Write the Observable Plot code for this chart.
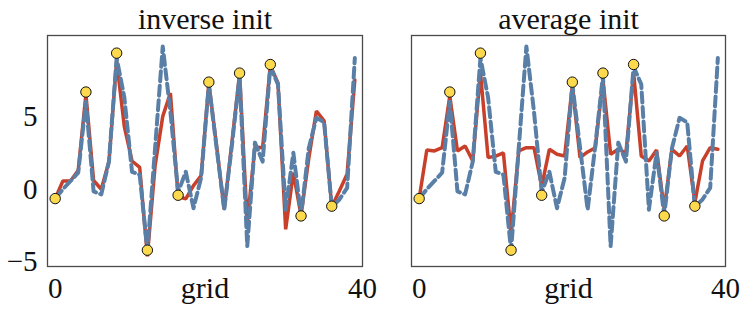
<!DOCTYPE html>
<html>
<head>
<meta charset="utf-8">
<script src="https://cdn.jsdelivr.net/npm/d3@7"></script>
<script src="https://cdn.jsdelivr.net/npm/@observablehq/plot@0.6"></script>
<style>
  html, body { margin: 0; padding: 0; background: #fff; }
  #wrap { position: relative; width: 747px; height: 313px; overflow: hidden; }
  #wrap > div, #wrap > svg { position: absolute; top: 0; }
</style>
</head>
<body>
<div id="wrap"></div>
<script>
// grid positions 0..39
const grid = d3.range(40);
// dashed blue series (same in both panels)
const blueSeries = [-0.64, 0.0, 0.57, 1.14, 6.0, -0.15, -0.35, 1.9, 9.0, 6.3,
  1.2, 1.0, -4.2, 2.8, 9.8, 5.3, -0.2, 1.2, -1.3, 0.8,
  7.2, 2.9, -1.4, 3.0, 7.8, -3.9, 3.2, 1.9, 8.4, 7.2,
  -1.4, 2.5, -1.8, 2.8, 4.9, 4.6, -1.2, -0.7, 0.1, 9.0];
// red solid series, "inverse init"
const redInverse = [-0.64, 0.57, 0.57, 1.3, 6.5, 0.6, 0.0, 1.9, 8.8, 4.3,
  1.94, 1.5, -4.6, 1.6, 5.0, 6.6, -0.5, -0.66, 0.25, 0.94,
  7.3, 3.0, -1.37, 3.2, 7.9, -2.3, 2.9, 2.85, 8.5, 7.3,
  -2.75, 1.14, -1.8, 2.1, 5.37, 4.7, -1.2, -0.1, 1.05, 7.5];
// red solid series, "average init"
const redAverage = [-0.64, 2.69, 2.63, 2.85, 6.4, 2.63, 2.97, 1.94, 8.0, 2.17,
  2.28, 2.5, -3.0, 2.63, 2.85, 2.85, 0.2, 2.74, 2.4, 2.28,
  7.1, 2.17, 2.56, 2.85, 7.5, 2.4, 2.74, 2.5, 8.0, 2.28,
  1.94, 2.69, -1.4, 2.74, 2.28, 2.97, -0.9, 1.94, 2.85, 2.74];
// observed points (yellow)
const obsX = [0, 4, 8, 12, 16, 20, 24, 28, 32, 36];
const obsY = [-0.64, 6.67, 9.34, -4.18, -0.41, 7.35, 7.97, 8.56, -1.83, -1.16];
const titles = ["inverse init", "average init"];
const xTicks = [0, 40];
const yTicks = [-5, 0, 5];

const FONT = "'Liberation Serif', 'Times New Roman', serif";
const RED = "#c8402a", BLUE = "#5a7fa7", YELLOW = "#fdd94e";

function panel(title, red, showY, ml, mr, w) {
  const blueData = grid.map((g, i) => ({x: g, y: blueSeries[i]}));
  const redData = grid.map((g, i) => ({x: g, y: red[i]}));
  const obs = obsX.map((g, i) => ({x: g, y: obsY[i]}));
  const marks = [
    Plot.line(redData, {x: "x", y: "y", stroke: RED, strokeWidth: 3.5, strokeLinejoin: "miter"}),
    Plot.line(blueData, {x: "x", y: "y", stroke: BLUE, strokeWidth: 4, strokeDasharray: "10,4.5"}),
    Plot.dot(obs, {x: "x", y: "y", r: 5.2, fill: YELLOW, stroke: "#111", strokeWidth: 1}),
    Plot.frame({stroke: "#4a4a4a", strokeWidth: 1.3}),
    Plot.axisX(xTicks, {tickSize: 0, tickPadding: 11, fontSize: 29, label: null}),
    Plot.text([title], {frameAnchor: "top", dy: -7, lineAnchor: "bottom", fontSize: 30, fill: "#111"}),
    Plot.text(["grid"], {frameAnchor: "bottom", dy: 31, lineAnchor: "bottom", fontSize: 30, fill: "#111"})
  ];
  if (showY) {
    marks.push(Plot.axisY(yTicks, {tickSize: 0, tickPadding: 10, fontSize: 29, label: null,
      tickFormat: d => d < 0 ? "\u2212" + Math.abs(d) : String(d)}));
  }
  return Plot.plot({
    width: w, height: 313,
    marginLeft: ml, marginRight: mr, marginTop: 35, marginBottom: 47,
    x: {domain: [-1, 40], axis: null},
    y: {domain: [-5.3, 10.55], axis: null},
    style: {fontFamily: FONT, color: "#111", background: "transparent", overflow: "visible"},
    marks
  });
}

const wrap = document.getElementById("wrap");
const left = panel(titles[0], redInverse, true, 47, 11, 373);
left.style.left = "0px";
const right = panel(titles[1], redAverage, false, 37, 22, 373);
right.style.left = "374px";
wrap.appendChild(left);
wrap.appendChild(right);
</script>
</body>
</html>
